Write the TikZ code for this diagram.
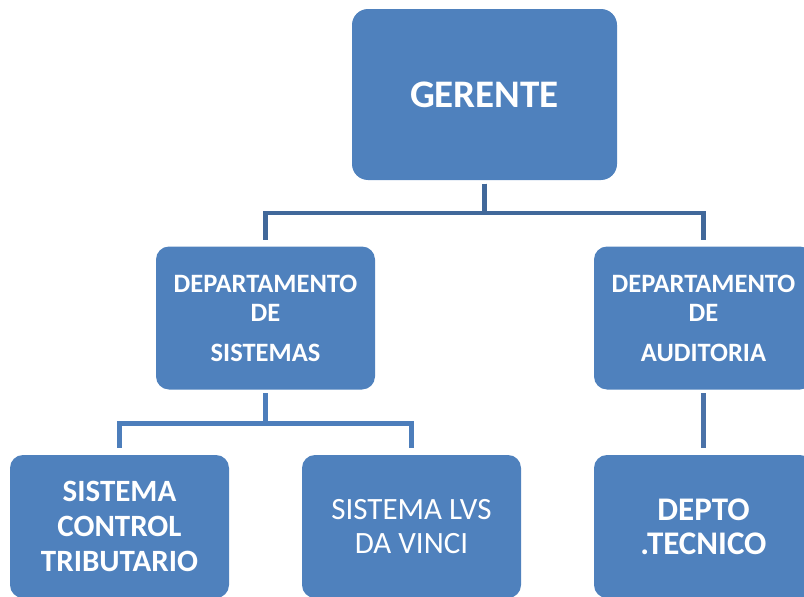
\documentclass[tikz,border=0pt]{standalone}
\usepackage{fontspec}
\setmainfont{Carlito}
\definecolor{boxblue}{HTML}{4F81BD}
\definecolor{linedark}{HTML}{41689A}
\definecolor{linemid}{HTML}{4A72A8}
\definecolor{linelight}{HTML}{4D7EBB}
\tikzset{
  orgbox/.style={draw=none, fill=boxblue, rounded corners=13pt, text=white,
    align=center, minimum width=219pt, minimum height=143pt, inner sep=0pt},
  orglink/.style={line width=4.5pt, shorten <=3.5pt, shorten >=6.5pt}
}
\begin{document}
\begin{tikzpicture}[x=1pt, y=-1pt]
    \useasboundingbox (0,0) rectangle (804,597);
    \clip (0,0) rectangle (804,597);
    \node [orgbox, minimum width=265pt, minimum height=171pt, rounded corners=16pt,
      font=\bfseries\fontsize{39}{46}\selectfont] (ger) at (484.5,94.5) {GERENTE};
    \node [orgbox, font=\bfseries\fontsize{26.5}{29}\selectfont] (sis) at (265.5,318)
      {DEPARTAMENTO\\DE\\[11pt]SISTEMAS};
    \node [orgbox, font=\bfseries\fontsize{26.5}{29}\selectfont] (aud) at (703.5,318)
      {DEPARTAMENTO\\DE\\[11pt]AUDITORIA};
    \node [orgbox, font=\bfseries\fontsize{31}{35}\selectfont] (trib) at (119.5,526.5)
      {SISTEMA\\CONTROL\\TRIBUTARIO};
    \node [orgbox, font=\fontsize{31}{34}\selectfont] (lvs) at (411.5,526.5)
      {SISTEMA LVS\\DA VINCI};
    \node [orgbox, font=\bfseries\fontsize{33}{34}\selectfont] (tec) at (703.5,526.5)
      {DEPTO\\.TECNICO};
    \draw [orglink, color=linedark] (ger.south) -- ++(0,33) -| (sis.north);
    \draw [orglink, color=linedark] (ger.south) -- ++(0,33) -| (aud.north);
    \draw [orglink, color=linelight] (sis.south) -- ++(0,34) -| (trib.north);
    \draw [orglink, color=linelight] (sis.south) -- ++(0,34) -| (lvs.north);
    \draw [orglink, color=linemid] (aud.south) -- (tec.north);
\end{tikzpicture}
\end{document}
